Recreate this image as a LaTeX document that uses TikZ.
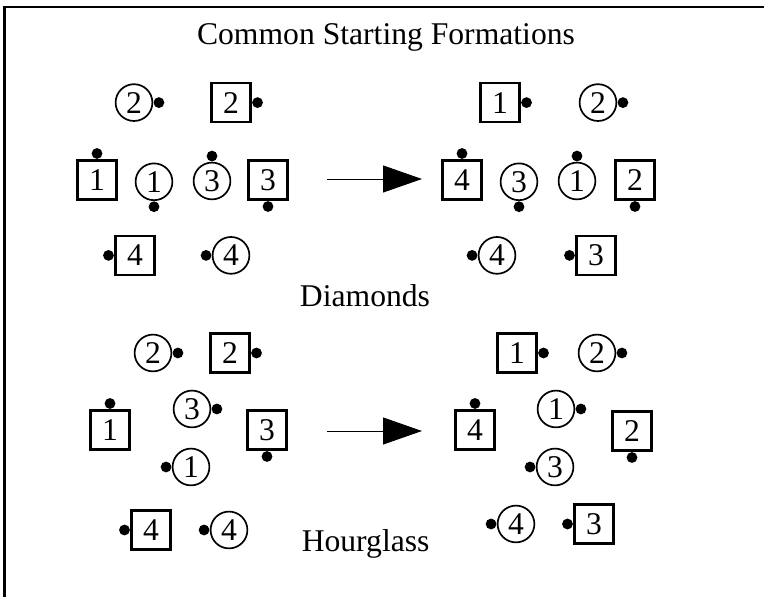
\documentclass[tikz,border=0pt]{standalone}
\usepackage{fontspec}
\setmainfont{Liberation Serif}
\usetikzlibrary{arrows.meta,positioning}
\tikzstyle{l1}=[line width=1.9pt]
\tikzstyle{frame}=[line width=1.7pt]
\tikzstyle{sq}=[rectangle, draw=black, l1, minimum size=0.975cm, inner sep=0pt]
\tikzstyle{ci}=[circle, draw=black, line width=1.2pt, minimum size=0.92cm, inner sep=0pt]
\tikzstyle{pdot}=[circle, fill=black, minimum size=0.27cm, inner sep=0pt]
\tikzstyle{move}=[line width=0.7pt, -{Triangle[length=0.975cm, width=0.675cm]}]

\begin{document}
\begin{tikzpicture}[font=\fontsize{22.5}{27}\selectfont]
    \useasboundingbox (0,0) rectangle (19.1,14.925);
    \draw[frame] (0.1125,0) |- (19.1,14.75);
    \node[anchor=base] at (9.65,13.8) (title) {Common Starting Formations};

    % diamonds, before
    \begin{scope}
        \node[ci] at (3.35,12.36) (dlc2) {2};
        \node[sq] at (5.775,12.36) (dls2) {2};
        \node[sq] at (2.425,10.425) (dls1) {1};
        \node[ci] at (3.85,10.38) (dlc1) {1};
        \node[ci] at (5.3,10.4) (dlc3) {3};
        \node[sq] at (6.7,10.425) (dls3) {3};
        \node[sq] at (3.375,8.54) (dls4) {4};
        \node[ci] at (5.775,8.54) (dlc4) {4};

        \node[pdot, right=0pt of dlc2] (dlc2d) {};
        \node[pdot, right=0pt of dls2] (dls2d) {};
        \node[pdot, above=0pt of dls1] (dls1d) {};
        \node[pdot, below=0pt of dlc1] (dlc1d) {};
        \node[pdot, above=0pt of dlc3] (dlc3d) {};
        \node[pdot, below=0pt of dls3] (dls3d) {};
        \node[pdot, left=0pt of dls4] (dls4d) {};
        \node[pdot, left=0pt of dlc4] (dlc4d) {};
    \end{scope}

    % diamonds, after
    \begin{scope}[shift={(9.125,0)}]
        \node[sq] at (3.375,12.36) (drs1) {1};
        \node[ci] at (5.825,12.36) (drc2) {2};
        \node[sq] at (2.425,10.425) (drs4) {4};
        \node[ci] at (3.85,10.38) (drc3) {3};
        \node[ci] at (5.3,10.4) (drc1) {1};
        \node[sq] at (6.75,10.425) (drs2) {2};
        \node[ci] at (3.3,8.54) (drc4) {4};
        \node[sq] at (5.775,8.54) (drs3) {3};

        \node[pdot, right=0pt of drs1] (drs1d) {};
        \node[pdot, right=0pt of drc2] (drc2d) {};
        \node[pdot, above=0pt of drs4] (drs4d) {};
        \node[pdot, below=0pt of drc3] (drc3d) {};
        \node[pdot, above=0pt of drc1] (drc1d) {};
        \node[pdot, below=0pt of drs2] (drs2d) {};
        \node[pdot, left=0pt of drc4] (drc4d) {};
        \node[pdot, left=0pt of drs3] (drs3d) {};
    \end{scope}

    \coordinate (da0) at (8.175,10.45);
    \coordinate (da1) at (10.55,10.45);
    \draw[move] (da0) -- (da1);
    \node[anchor=base] at (9.125,7.25) (diam) {Diamonds};

    % hourglass, before
    \begin{scope}
        \node[ci] at (3.825,6.1) (hlc2) {2};
        \node[sq] at (5.75,6.1) (hls2) {2};
        \node[sq] at (2.75,4.175) (hls1) {1};
        \node[ci] at (4.8,4.7) (hlc3) {3};
        \node[sq] at (6.675,4.175) (hls3) {3};
        \node[ci] at (4.775,3.25) (hlc1) {1};
        \node[sq] at (3.775,1.675) (hls4) {4};
        \node[ci] at (5.725,1.675) (hlc4) {4};

        \node[pdot, right=0pt of hlc2] (hlc2d) {};
        \node[pdot, right=0pt of hls2] (hls2d) {};
        \node[pdot, above=0pt of hls1] (hls1d) {};
        \node[pdot, right=0pt of hlc3] (hlc3d) {};
        \node[pdot, below=0pt of hls3] (hls3d) {};
        \node[pdot, left=0pt of hlc1] (hlc1d) {};
        \node[pdot, left=0pt of hls4] (hls4d) {};
        \node[pdot, left=0pt of hlc4] (hlc4d) {};
    \end{scope}

    % hourglass, after
    \begin{scope}[shift={(9.125,0)}]
        \node[sq] at (3.8,6.1) (hrs1) {1};
        \node[ci] at (5.8,6.1) (hrc2) {2};
        \node[sq] at (2.75,4.175) (hrs4) {4};
        \node[ci] at (4.775,4.7) (hrc1) {1};
        \node[sq] at (6.675,4.15) (hrs2) {2};
        \node[ci] at (4.75,3.25) (hrc3) {3};
        \node[ci] at (3.775,1.825) (hrc4) {4};
        \node[sq] at (5.725,1.825) (hrs3) {3};

        \node[pdot, right=0pt of hrs1] (hrs1d) {};
        \node[pdot, right=0pt of hrc2] (hrc2d) {};
        \node[pdot, above=0pt of hrs4] (hrs4d) {};
        \node[pdot, right=0pt of hrc1] (hrc1d) {};
        \node[pdot, below=0pt of hrs2] (hrs2d) {};
        \node[pdot, left=0pt of hrc3] (hrc3d) {};
        \node[pdot, left=0pt of hrc4] (hrc4d) {};
        \node[pdot, left=0pt of hrs3] (hrs3d) {};
    \end{scope}

    \coordinate (ha0) at (8.175,4.15);
    \coordinate (ha1) at (10.55,4.15);
    \draw[move] (ha0) -- (ha1);
    \node[anchor=base] at (9.14,1.125) (hour) {Hourglass};
\end{tikzpicture}
\end{document}
